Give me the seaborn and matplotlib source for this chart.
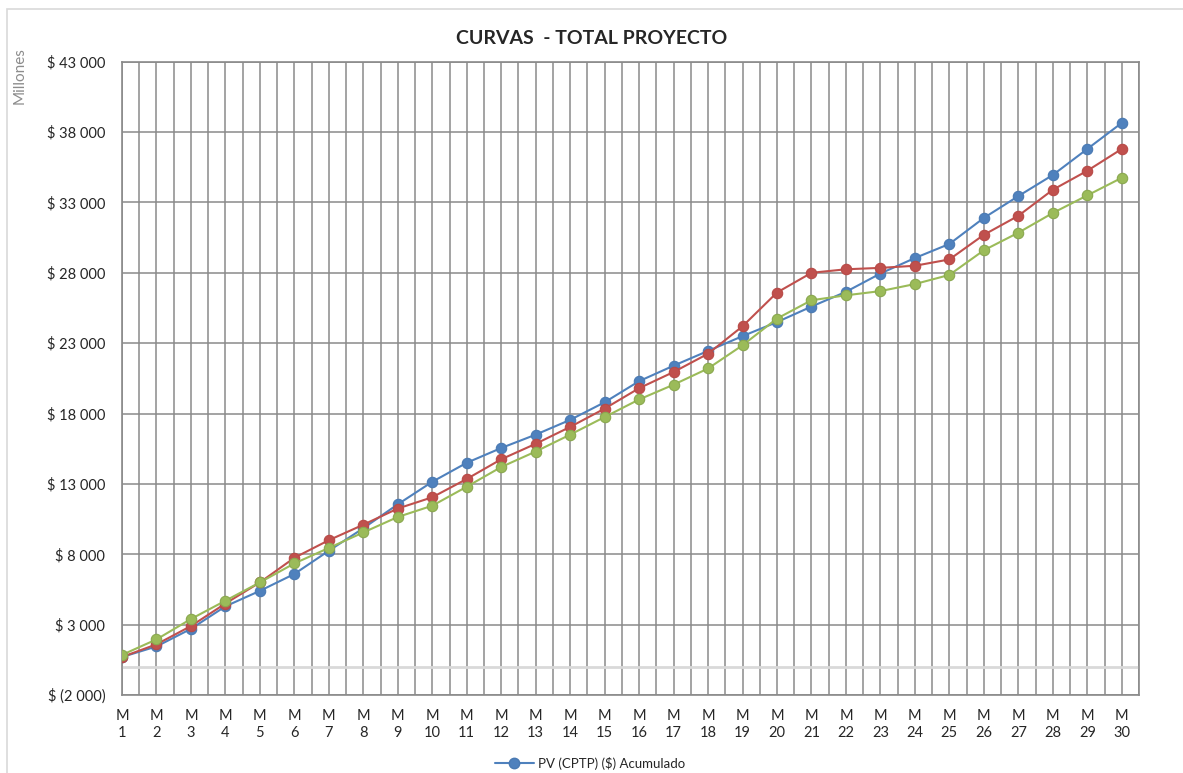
import numpy as np
import pandas as pd
import matplotlib
matplotlib.use("Agg")
import matplotlib.pyplot as plt
from matplotlib.patches import Rectangle
from matplotlib.lines import Line2D
import seaborn as sns

# Data (millions)
months = list(range(1, 31))
month_labels = [f"M\n{m}" for m in months]
pv = [700, 1450, 2700, 4300, 5400, 6600, 8250, 9850, 11550, 13150,
      14500, 15550, 16500, 17550, 18800, 20300, 21400, 22450, 23500, 24500,
      25600, 26650, 27950, 29050, 30050, 31900, 33450, 34950, 36800, 38650]
ac = [700, 1600, 2900, 4500, 6000, 7750, 9000, 10100, 11250, 12050,
      13350, 14750, 15850, 17050, 18350, 19800, 20950, 22250, 24200, 26600,
      28000, 28250, 28350, 28500, 28950, 30700, 32050, 33900, 35250, 36800]
ev = [850, 1950, 3400, 4700, 6000, 7350, 8450, 9550, 10650, 11450,
      12800, 14200, 15300, 16500, 17750, 19000, 20050, 21200, 22850, 24750,
      26050, 26400, 26700, 27200, 27850, 29600, 30850, 32250, 33500, 34750]
y_ticks = list(range(-2000, 43001, 5000))

sns.set_style("white")
plt.rcParams['font.family'] = ['Lato', 'DejaVu Sans']

fig = plt.figure(figsize=(11.83, 7.73), dpi=100)
ax = fig.add_axes([122 / 1183, 1 - 695 / 773, (1139 - 122) / 1183, (695 - 61.7) / 773])

# chart area border (cropped on the right / bottom)
fig.patches.append(Rectangle((7 / 1183, -0.1), 1.2, 1 - 9 / 773 + 0.1,
                             transform=fig.transFigure, fill=False,
                             edgecolor="#d9d9d9", linewidth=1.2))

grid_col = "#8a8a8a"
ax.set_xlim(1, 30.5)
ax.set_ylim(-2000, 43000)
ax.set_xticks(months)
ax.set_xticklabels(month_labels, fontsize=10.5, linespacing=1.25)
ax.set_xticks(np.arange(1.5, 31, 1.0), minor=True)
ax.set_yticks(y_ticks)


def fmt(v):
    s = f"{abs(v):,}".replace(",", " ")
    return f"$ ({s})" if v < 0 else f"$ {s}"


ax.set_yticklabels([fmt(v) for v in y_ticks], fontsize=10.5)
ax.tick_params(axis="both", which="both", length=0)
ax.tick_params(axis="x", pad=10)
ax.tick_params(axis="y", pad=12)
ax.grid(True, axis="x", which="both", color=grid_col, linewidth=1.1)
ax.grid(True, axis="y", which="major", color=grid_col, linewidth=1.1)
ax.axhline(0, color="#d9d9d9", linewidth=2, zorder=1.5)
for s in ax.spines.values():
    s.set_color(grid_col)
    s.set_linewidth(1.2)
ax.set_axisbelow(True)

series = [(pv, "#4f81bd", "#4a7ab3"), (ac, "#c0504d", "#b84a47"), (ev, "#9bbb59", "#8aa84f")]
for vals, col, edge in series:
    sns.lineplot(x=months, y=vals, ax=ax, color=col, linewidth=1.5, marker="o",
                 markersize=7.5, markeredgecolor=edge, markeredgewidth=0.8,
                 legend=False, zorder=3)

ax.set_xlabel("")
ax.set_ylabel("")

fig.text(0.5, 1 - 39 / 773, "CURVAS  - TOTAL PROYECTO", ha="center", va="center",
         fontsize=14, fontweight="bold")
fig.text(20 / 1183, 1 - 76 / 773, "Millones", rotation=90, ha="center", va="center",
         fontsize=11, color="#8c8c8c")

handle = Line2D([], [], color="#4f81bd", linewidth=1.5, marker="o", markersize=7.5,
                markeredgecolor="#4a7ab3")
fig.legend([handle], ["PV (CPTP) ($) Acumulado"], loc="center",
           bbox_to_anchor=(590 / 1183, 1 - 763 / 773), frameon=False, fontsize=9.5,
           handlelength=3, handletextpad=0.3)

fig.savefig("out.png", dpi=100)
